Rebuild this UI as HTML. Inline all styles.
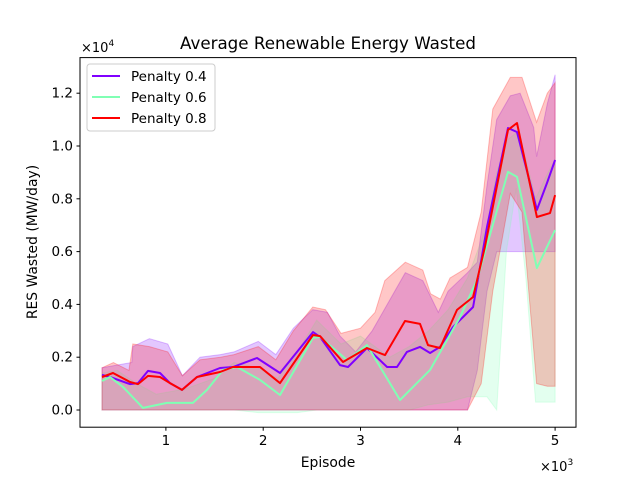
<!DOCTYPE html>
<html><head><meta charset="utf-8"><style>
body{margin:0;background:#fff}
svg{display:block;font-family:"DejaVu Sans","Liberation Sans",sans-serif}
</style></head><body>
<svg id="chart" width="640" height="480" viewBox="0 0 640 480">
<g id="bands"></g>
<g id="lines"></g>
<rect x="80" y="57.6" width="496" height="369.6" fill="none" stroke="#000" stroke-width="1"/>
<g id="xticks"></g>
<g id="yticks"></g>
<text x="328" y="49" font-size="16.7" text-anchor="middle">Average Renewable Energy Wasted</text>
<text x="81" y="52" font-size="13">×10<tspan font-size="9" dy="-6">4</tspan></text>
<text x="540" y="471" font-size="13">×10<tspan font-size="9" dy="-6">3</tspan></text>
<text x="328" y="467" font-size="13.9" text-anchor="middle">Episode</text>
<text x="37" y="242" font-size="13.9" text-anchor="middle" transform="rotate(-90 37 242)">RES Wasted (MW/day)</text>
<g>
<rect x="87" y="64" width="128" height="67" rx="3" fill="#fff" fill-opacity="0.8" stroke="#ccc"/>
<g><line x1="92" y1="76" x2="120" y2="76" stroke="#8000ff" stroke-width="2"/><text x="131" y="81" font-size="13.5">Penalty 0.4</text></g>
<g><line x1="92" y1="97" x2="120" y2="97" stroke="#80ffb4" stroke-width="2"/><text x="131" y="102" font-size="13.5">Penalty 0.6</text></g>
<g><line x1="92" y1="118" x2="120" y2="118" stroke="#ff0000" stroke-width="2"/><text x="131" y="123" font-size="13.5">Penalty 0.8</text></g>
</g>
</svg>
<script>
const xTicks=[1,2,3,4,5];
const yTicks=[0.0,0.2,0.4,0.6,0.8,1.0,1.2];
const seriesNames=["Penalty 0.4","Penalty 0.6","Penalty 0.8"];
const seriesColors=["#8000ff","#80ffb4","#ff0000"];
// mean lines (episodes, value ×10^4)
const p4X=[343,425,631,713,816,939,1042,1165,1320,1556,1690,1936,2173,2512,2584,2789,2872,3067,3273,3375,3477,3611,3715,3817,3951,4157,4300,4516,4608,4813,4917,5000];
const p4Y=[.133,.125,.098,.102,.148,.140,.102,.076,.125,.159,.163,.197,.140,.295,.277,.170,.163,.235,.163,.163,.220,.239,.216,.239,.314,.390,.693,1.068,1.053,.758,.860,.947];
const p6X=[343,425,559,765,1011,1278,1422,1587,1731,1967,2173,2512,2584,2862,3067,3406,3715,4023,4197,4516,4608,4813,5000];
const p6Y=[.110,.125,.087,.008,.027,.027,.076,.152,.163,.114,.057,.273,.277,.189,.246,.038,.152,.352,.492,.902,.883,.538,.682];
const p8X=[343,456,631,713,816,939,1042,1165,1320,1556,1690,1967,2173,2512,2584,2820,3067,3252,3457,3611,3694,3817,3992,4157,4279,4516,4608,4813,4948,5000];
const p8Y=[.125,.140,.106,.098,.129,.125,.102,.076,.125,.144,.163,.163,.102,.284,.280,.182,.235,.208,.337,.326,.246,.235,.379,.428,.617,1.061,1.087,.731,.746,.814];
// bands
const p4BandX=[343,650,660,830,1020,1170,1350,1560,1700,1950,2130,2310,2510,2660,2790,2950,3120,3460,3640,3720,3800,3900,4100,4200,4300,4400,4540,4640,4780,4810,4920,5000];
const p4Up=[.16,.18,.24,.27,.25,.13,.20,.21,.22,.26,.21,.31,.38,.37,.28,.22,.30,.52,.49,.43,.37,.45,.52,.56,.85,1.10,1.19,1.20,1.07,.96,1.16,1.27];
const p4Lo=[0,0,0,0,0,0,0,0,0,0,0,0,0,0,0,0,0,0,0,0,0,0,0,.15,.45,.60,.60,.60,.60,.60,.60,.60];
const p6BandX=[343,500,700,900,1200,1500,1700,1950,2150,2350,2550,2800,3000,3300,3500,3700,3900,4100,4300,4400,4500,4600,4700,4800,4900,5000];
const p6Up=[.14,.15,.10,.06,.08,.12,.18,.16,.12,.22,.34,.25,.28,.20,.24,.30,.38,.50,.70,.90,1.02,1.05,.95,.80,.88,.95];
const p6Lo=[0,0,0,0,0,0,0,-.01,-.01,-.01,0,0,0,0,0,.02,.03,.05,.05,.00,.60,.84,.50,.03,.03,.03];
const p8BandX=[343,460,620,660,830,1020,1170,1350,1560,1700,1950,2130,2310,2510,2640,2800,3000,3150,3250,3460,3640,3720,3820,3920,4100,4240,4360,4540,4660,4810,4920,5000];
const p8Up=[.16,.18,.15,.25,.24,.22,.13,.19,.20,.21,.24,.19,.30,.39,.38,.29,.31,.37,.49,.56,.53,.44,.42,.50,.54,.75,1.14,1.26,1.26,1.09,1.20,1.24];
const p8Lo=[0,0,0,0,0,0,0,0,0,0,0,0,0,0,0,0,0,0,0,0,0,0,0,0,0,.10,.45,.82,.75,.10,.09,.09];

const X0=68.6, XS=0.0973, Y0=410, YS=264;
function sx(ep){return X0+XS*ep;}
function sy(v){return Y0-YS*v;}
const NS="http://www.w3.org/2000/svg";
function mk(tag,attrs,parent){const e=document.createElementNS(NS,tag);for(const k in attrs)e.setAttribute(k,attrs[k]);parent.appendChild(e);return e;}
const bands=document.getElementById('bands'), lines=document.getElementById('lines');
const bandSets=[[p4BandX,p4Up,p4Lo],[p6BandX,p6Up,p6Lo],[p8BandX,p8Up,p8Lo]];
const lineSets=[[p4X,p4Y],[p6X,p6Y],[p8X,p8Y]];
const bandNames=['band-penalty-0-4','band-penalty-0-6','band-penalty-0-8'];
const lineNames=['line-penalty-0-4','line-penalty-0-6','line-penalty-0-8'];
bandSets.forEach((b,i)=>{
  let d='';
  b[0].forEach((x,j)=>{d+=(j?'L':'M')+sx(x).toFixed(1)+','+sy(b[1][j]).toFixed(1);});
  for(let j=b[0].length-1;j>=0;j--){d+='L'+sx(b[0][j]).toFixed(1)+','+sy(b[2][j]).toFixed(1);}
  const p=mk('path',{d:d+'Z',fill:seriesColors[i],'fill-opacity':0.22,stroke:seriesColors[i],'stroke-opacity':0.25},bands);
  
  
});
lineSets.forEach((s,i)=>{
  const pts=s[0].map((x,j)=>sx(x).toFixed(1)+','+sy(s[1][j]).toFixed(1)).join(' ');
  const l=mk('polyline',{points:pts,fill:'none',stroke:seriesColors[i],'stroke-width':2,'stroke-linejoin':'round'},lines);
  
  
});
const xg=document.getElementById('xticks'), yg=document.getElementById('yticks');
xTicks.forEach(t=>{
  const x=sx(t*1000);
  const ln=mk('line',{x1:x,x2:x,y1:427.2,y2:430.7,stroke:'#000'},xg);
  
  
  const tx=mk('text',{x:x,y:445,'font-size':13.5,'text-anchor':'middle'},xg);
  tx.textContent=t;
  
  
});
yTicks.forEach(t=>{
  const y=sy(t);
  const ln=mk('line',{x1:76.5,x2:80,y1:y,y2:y,stroke:'#000'},yg);
  
  
  const tx=mk('text',{x:73,y:y+4.5,'font-size':13.5,'text-anchor':'end'},yg);
  tx.textContent=t.toFixed(1);
  
  
});
</script>
</body></html>
